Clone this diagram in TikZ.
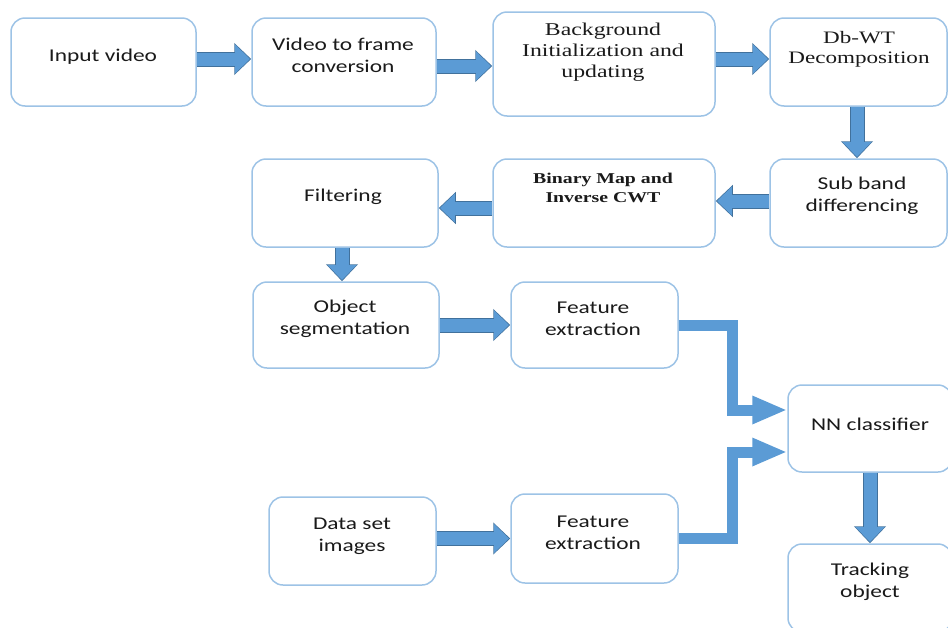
\documentclass[tikz,border=0pt]{standalone}
\usepackage{fontspec}
\setmainfont{Carlito}[FakeStretch=1.3]
\newfontfamily\serifff{Liberation Serif}[FakeStretch=1.32]
\usetikzlibrary{arrows.meta,calc}
\definecolor{boxline}{HTML}{9DC3E6}
\definecolor{arrfill}{HTML}{5B9BD5}
\definecolor{arrline}{HTML}{41719C}
\definecolor{txt}{HTML}{1A1A1A}
\begin{document}
\begin{tikzpicture}[x=1pt,y=-1pt,
  box/.style n args={2}{draw=boxline, line width=1.5pt, rounded corners=14pt,
    minimum width=#1pt, minimum height=#2pt, inner sep=0pt, fill=white},
  lbl/.style={font=\fontsize{18}{22}\selectfont, text=txt, align=center, inner sep=0pt},
  slbl/.style={font=\serifff\fontsize{18}{21}\selectfont, text=txt, align=center, inner sep=0pt},
  slbld/.style={font=\serifff\fontsize{17.5}{20}\selectfont, text=txt, align=center, inner sep=0pt},
  slbls/.style={font=\serifff\bfseries\fontsize{15}{19}\selectfont, text=txt, align=center, inner sep=0pt},
  barrow/.style={line width=13pt, draw=arrfill, line join=miter,
    -{Triangle[length=15pt,width=28pt]}, shorten >=1.2pt,
    preaction={draw=arrline, line width=15pt, line join=miter,
      -{Triangle[length=17pt,width=31pt]}, shorten >=0pt}},
  earrow/.style={line width=11pt, draw=arrfill, line join=miter,
    -{Triangle[length=35pt,width=26pt]}}
]
\useasboundingbox (0,0) rectangle (948,627);
\clip (0,0) rectangle (948,627);

% boxes
\node[box={185}{88}] (in) at (103.5,62) {};
\node[box={184}{88}] (v2f) at (344,62) {};
\node[box={222}{104}] (bg) at (604,64) {};
\node[box={177}{88}] (db) at (858.5,62) {};
\node[box={177}{88}] (sb) at (858.5,203) {};
\node[box={222}{88}] (bm) at (604,203) {};
\node[box={186}{88}] (fl) at (345,203) {};
\node[box={186}{86}] (os) at (346,325) {};
\node[box={167}{86}] (f1) at (594.5,325) {};
\node[box={167}{88}] (ds) at (352.5,541) {};
\node[box={167}{89}] (f2) at (594.5,538.5) {};
\node[box={164}{87}] (nn) at (870,428.5) {};
\node[box={164}{88}] (tr) at (870,588) {};

% labels
\node[lbl] (tin) at (103,57) {Input video};
\node[lbl] (tv2f) at (343,55) {Video to frame\\conversion};
\node[slbl] (tbg) at (603,52) {Background\\Initialization and\\updating};
\node[slbld] (tdb) at (859,49) {Db-WT\\Decomposition};
\node[lbl] (tsb) at (862,196) {Sub band\\differencing};
\node[slbls] (tbm) at (603,188) {Binary Map and\\Inverse CWT};
\node[lbl] (tfl) at (343,197) {Filtering};
\node[lbl] (tos) at (345,319) {Object\\segmentation};
\node[lbl] (tf1) at (593,319) {Feature\\extraction};
\node[lbl] (tds) at (352,536) {Data set\\images};
\node[lbl] (tf2) at (593,533) {Feature\\extraction};
\node[lbl] (tnn) at (870,424) {NN classifier};
\node[lbl] (ttr) at (870,582) {Tracking\\object};

% arrows
\draw[barrow] ($(in.east)+(0,-3)$) -- ($(v2f.west)+(0,-3)$);
\draw[barrow] ($(v2f.east)+(0,4)$) -- ($(bg.west)+(0,2)$);
\draw[barrow] ($(bg.east)+(0,-5)$) -- ($(db.west)+(0,-3)$);
\draw[barrow] ($(db.south)+(-1.5,0)$) -- ($(sb.north)+(-1.5,0)$);
\draw[barrow] ($(sb.west)+(0,-2)$) -- ($(bm.east)+(0,-2)$);
\draw[barrow] ($(bm.west)+(0,5)$) -- ($(fl.east)+(0,5)$);
\draw[barrow] ($(fl.south)+(-3,0)$) -- ($(os.north)+(-4,0)$);
\draw[barrow] (os.east) -- (f1.west);
\draw[barrow] ($(ds.east)+(0,-2.5)$) -- (f2.west);
\draw[earrow] (f1.east) -| ($(nn.west)+(-55,-18.5)$) -- ($(nn.west)+(0,-18.5)$);
\draw[earrow] (f2.east) -| ($(nn.west)+(-55,23.5)$) -- ($(nn.west)+(0,23.5)$);
\draw[barrow] (nn.south) -- (tr.north);
\end{tikzpicture}
\end{document}
